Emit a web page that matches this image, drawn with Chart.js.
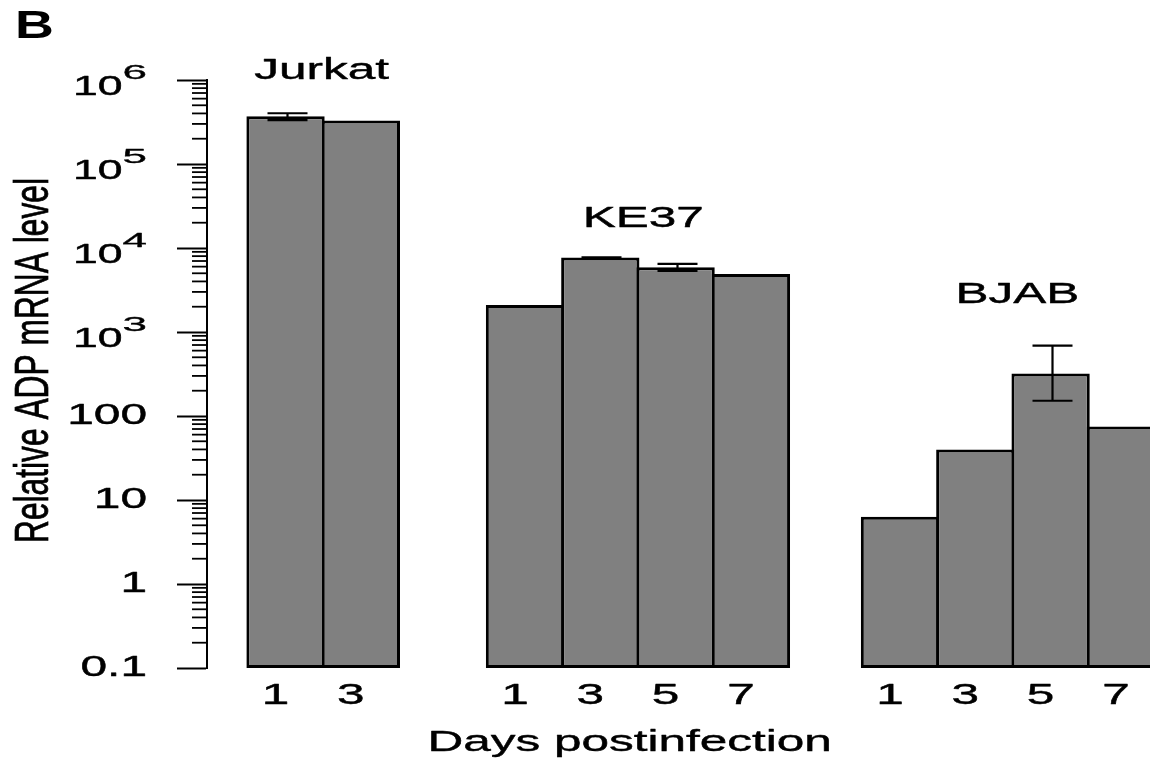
<!DOCTYPE html>
<html>
<head>
<meta charset="utf-8">
<script src="https://cdn.jsdelivr.net/npm/chart.js@4.4.1/dist/chart.umd.min.js"></script>
<style>
html,body{margin:0;padding:0;background:#fff;overflow:hidden}
canvas{display:block}
</style>
</head>
<body>
<canvas id="c" width="1150" height="759" style="width:1150px;height:759px"></canvas>
<script>
// ---------------- data ----------------
const groups = ['Jurkat', 'KE37', 'BJAB'];
const dayLabels = [['1', '3'], ['1', '3', '5', '7'], ['1', '3', '5', '7']];
const values = [[3.7e5, 3.3e5], [2.1e3, 7.7e3, 5.9e3, 4.9e3], [6.3, 40, 320, 75]];
const errLow = [[3.32e5, null], [null, 7.45e3, 5.32e3, null], [null, null, 152, null]];
const errHigh = [[4.02e5, null], [null, 7.75e3, 6.46e3, null], [null, null, 687, null]];
const yTickValues = [0.1, 1, 10, 100, 1e3, 1e4, 1e5, 1e6];
const yTickLabels = ['0.1', '1', '10', '100', '10\u00B3', '10\u2074', '10\u2075', '10\u2076'];
const xTitle = 'Days postinfection';
const yTitle = 'Relative ADP mRNA level';
const panelLetter = 'B';

// ---------------- layout (not data) ----------------
const groupGaps = [0, 1.18, 0.98];           // gap before each group, in bar widths
const groupLabelX = [0.48, 4.75, 9.72];      // in x-axis units
const groupLabelY = [1.03e6, 1.78e4, 2.2e3]; // baseline, in y-axis units
const SX = 1.65;                              // horizontal text stretch of the reference
const FONT = "'Liberation Sans', Arial, Helvetica, sans-serif";
const BOLDEN = 0.7;

// build flat arrays from the group lists
const xPos = [], xLabels = [], flatVals = [], flatLo = [], flatHi = [];
let cur = 0;
groups.forEach((g, gi) => {
  cur += groupGaps[gi];
  dayLabels[gi].forEach((d, j) => {
    xPos.push(cur);
    xLabels.push(d);
    flatVals.push(values[gi][j]);
    flatLo.push(errLow[gi][j]);
    flatHi.push(errHigh[gi][j]);
    cur += 1;
  });
});
const points = xPos.map((x, i) => ({ x: x, y: flatVals[i] }));

// ---------------- text stretch + superscript rendering ----------------
const canvas = document.getElementById('c');
const ctx = canvas.getContext('2d');
const origFill = ctx.fillText.bind(ctx);
const origStroke = ctx.strokeText.bind(ctx);
const origMeasure = ctx.measureText.bind(ctx);
const SUP = { '\u2070': '0', '\u00B9': '1', '\u00B2': '2', '\u00B3': '3', '\u2074': '4', '\u2075': '5', '\u2076': '6', '\u2077': '7', '\u2078': '8', '\u2079': '9' };
const SUP_RE = /[\u2070\u00B9\u00B2\u00B3\u2074-\u2079]+$/;
const EXP_FONT = 20, EXP_SX = 2.2, BASE_FONT = 27;

function boldText(t, sx) {
  origFill(t, 0, 0);
  ctx.lineWidth = BOLDEN / sx;
  ctx.strokeStyle = ctx.fillStyle;
  ctx.lineJoin = 'round';
  origStroke(t, 0, 0);
}
function drawStretched(t, x, y, sx) {
  ctx.save();
  ctx.translate(x, y);
  ctx.scale(sx, 1);
  boldText(t, sx);
  ctx.restore();
}
function splitSup(t) {
  const m = t.match(SUP_RE);
  if (!m) return null;
  return { base: t.slice(0, m.index), exp: m[0].split('').map(ch => SUP[ch]).join('') };
}
ctx.fillText = function (t, x, y) {
  const s = splitSup(String(t));
  if (!s) { drawStretched(t, x, y, SX); return; }
  // superscript expression: base + raised exponent, centred like R's plotmath
  const savedFont = ctx.font, savedAlign = ctx.textAlign, savedBase = ctx.textBaseline;
  ctx.font = EXP_FONT + 'px ' + FONT;
  const expW = origMeasure(s.exp).width * EXP_SX;
  ctx.font = BASE_FONT + 'px ' + FONT;
  const baseW = origMeasure(s.base).width * SX;
  let right = x;
  if (savedAlign === 'left' || savedAlign === 'start') right = x + baseW + expW;
  else if (savedAlign === 'center') right = x + (baseW + expW) / 2;
  ctx.textAlign = 'right';
  ctx.textBaseline = 'alphabetic';
  drawStretched(s.base, right - expW, y + 15, SX);
  ctx.font = EXP_FONT + 'px ' + FONT;
  drawStretched(s.exp, right, y - 1, EXP_SX);
  ctx.font = savedFont; ctx.textAlign = savedAlign; ctx.textBaseline = savedBase;
};
ctx.measureText = function (t) {
  const s = splitSup(String(t));
  let w;
  if (s) {
    const f = ctx.font;
    ctx.font = EXP_FONT + 'px ' + FONT;
    const expW = origMeasure(s.exp).width * EXP_SX;
    ctx.font = BASE_FONT + 'px ' + FONT;
    w = origMeasure(s.base).width * SX + expW;
    ctx.font = f;
  }
  const m = origMeasure(t);
  return {
    width: s ? w : m.width * SX,
    actualBoundingBoxAscent: m.actualBoundingBoxAscent,
    actualBoundingBoxDescent: m.actualBoundingBoxDescent,
    actualBoundingBoxLeft: m.actualBoundingBoxLeft * SX,
    actualBoundingBoxRight: m.actualBoundingBoxRight * SX,
    fontBoundingBoxAscent: m.fontBoundingBoxAscent,
    fontBoundingBoxDescent: m.fontBoundingBoxDescent
  };
};

Chart.defaults.font.family = FONT;
Chart.defaults.color = '#000';

const annotPlugin = {
  id: 'annot',
  afterDraw(chart) {
    const c = chart.ctx;
    const xs = chart.scales.x, ys = chart.scales.y;
    const area = chart.chartArea;
    c.save();
    // minor ticks on the log axis
    c.strokeStyle = '#000';
    c.lineWidth = 1.8;
    for (let n = -1; n < 6; n++) {
      for (let k = 2; k < 10; k++) {
        const py = ys.getPixelForValue(k * Math.pow(10, n));
        c.beginPath();
        c.moveTo(area.left - 15, py);
        c.lineTo(area.left, py);
        c.stroke();
      }
    }
    // error bars
    c.lineWidth = 2.2;
    flatVals.forEach((v, i) => {
      if (flatLo[i] == null || flatHi[i] == null) return;
      const px = Math.round(xs.getPixelForValue(xPos[i])) + 1.5;
      const yh = ys.getPixelForValue(flatHi[i]);
      const yl = ys.getPixelForValue(flatLo[i]);
      c.beginPath();
      c.moveTo(px, yh); c.lineTo(px, yl);
      c.moveTo(px - 20, yh); c.lineTo(px + 20, yh);
      c.moveTo(px - 20, yl); c.lineTo(px + 20, yl);
      c.stroke();
    });
    // group labels
    c.fillStyle = '#000';
    c.font = '30px ' + FONT;
    c.textAlign = 'center';
    c.textBaseline = 'alphabetic';
    groups.forEach((g, gi) => {
      c.fillText(g, xs.getPixelForValue(groupLabelX[gi]), ys.getPixelForValue(groupLabelY[gi]));
    });
    // x title
    c.fillText(xTitle, xs.getPixelForValue(4.57), area.bottom + 83);
    // y title (rotated, drawn with its own scaling)
    c.font = '30px ' + FONT;
    const natW = origMeasure(yTitle).width;
    c.save();
    c.translate(48, 360.5);
    c.rotate(-Math.PI / 2);
    c.scale(365 / natW, 1.6);
    c.textAlign = 'center';
    origFill(yTitle, 0, 0);
    c.lineWidth = 0.45; c.strokeStyle = '#000';
    origStroke(yTitle, 0, 0);
    c.restore();
    // panel letter
    c.save();
    c.font = 'bold 39px ' + FONT;
    c.textAlign = 'left';
    c.translate(15, 38);
    c.scale(1.38, 1);
    origFill(panelLetter, 0, 0);
    c.restore();
    c.restore();
  }
};

new Chart(ctx, {
  type: 'bar',
  data: {
    datasets: [{
      data: points,
      backgroundColor: '#808080',
      borderColor: '#000',
      borderWidth: 3,
      borderSkipped: false,
      barPercentage: 1.04,
      categoryPercentage: 1
    }]
  },
  options: {
    responsive: false,
    animation: false,
    events: [],
    layout: { padding: { left: 0, right: 0, top: 80, bottom: 0 } },
    plugins: { legend: { display: false }, tooltip: { enabled: false }, title: { display: false } },
    scales: {
      x: {
        type: 'linear',
        offset: false,
        min: -1.043,
        max: 11.48,
        grid: { display: false, drawTicks: false, offset: false },
        border: { display: false },
        afterBuildTicks: (s) => { s.ticks = xPos.map(v => ({ value: v })); },
        afterFit: (s) => { s.height = 91; },
        ticks: {
          autoSkip: false,
          maxRotation: 0,
          minRotation: 0,
          padding: 10,
          labelOffset: -10,
          font: { size: 30 },
          color: '#000',
          callback: (v, i) => xLabels[i]
        }
      },
      y: {
        type: 'logarithmic',
        min: 0.1,
        max: 1e6,
        afterBuildTicks: (s) => { s.ticks = yTickValues.map(v => ({ value: v, major: true })); },
        afterFit: (s) => { s.width = 207; },
        grid: { drawOnChartArea: false, drawTicks: true, tickLength: 30, tickWidth: 2, tickColor: '#000' },
        border: { display: true, color: '#000', width: 2 },
        ticks: {
          autoSkip: false,
          padding: 30,
          font: { size: 29 },
          color: '#000',
          callback: (v, i) => yTickLabels[i]
        }
      }
    }
  },
  plugins: [annotPlugin]
});
</script>
</body>
</html>
